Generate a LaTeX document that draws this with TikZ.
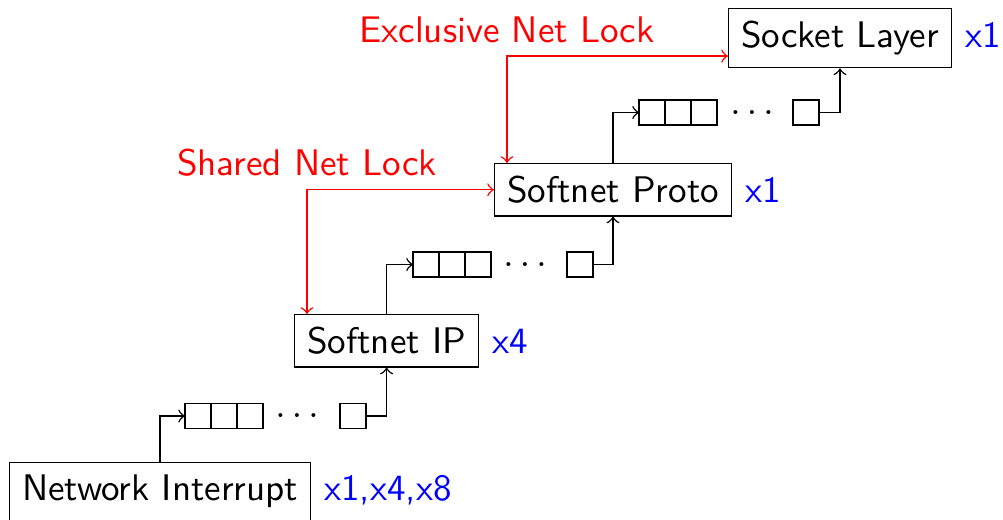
\documentclass[tikz,border=0pt]{standalone}
\usepackage{tikz}
\usetikzlibrary{positioning}

\begin{document}
\begin{tikzpicture}[x=0.27pt,y=-0.27pt,
  every node/.style={font=\sffamily},
  layer/.style={draw,anchor=north west},
  count/.style={text=blue,anchor=base west},
  cell/.style={draw,minimum width=7pt,minimum height=6.75pt,inner sep=0pt,outer sep=0pt},
  lock/.style={red,<->},
  flow/.style={->}]
\useasboundingbox (0,0) rectangle (1003,519);
% layers
\node[layer] (ni) at (9,462) {Network Interrupt};
\node[layer] (ip) at (294,314) {Softnet IP};
\node[layer] (proto) at (494,163) {Softnet Proto};
\node[layer] (sock) at (728,8) {Socket Layer};
\node[count] (nicount) at (ni.base east) {x1,x4,x8};
\node[count] (ipcount) at (ip.base east) {x4};
\node[count] (protocount) at (proto.base east) {x1};
\node[count] (sockcount) at (sock.base east) {x1};
% queues
\node[cell] (q1a) at (198,416) {};
\node[cell,right=0pt of q1a] (q1b) {};
\node[cell,right=0pt of q1b] (q1c) {};
\node (q1d) at (297,416) {$\ldots$};
\node[cell] (q1z) at (353,416) {};
\node[cell] (q2a) at (426,264.5) {};
\node[cell,right=0pt of q2a] (q2b) {};
\node[cell,right=0pt of q2b] (q2c) {};
\node (q2d) at (525,264.5) {$\ldots$};
\node[cell] (q2z) at (580,264.5) {};
\node[cell] (q3a) at (652,112.5) {};
\node[cell,right=0pt of q3a] (q3b) {};
\node[cell,right=0pt of q3b] (q3c) {};
\node (q3d) at (752,112.5) {$\ldots$};
\node[cell] (q3z) at (806,112.5) {};
% packet flow
\draw[flow] (ni.north) |- (q1a.west);
\draw[flow] (q1z.east) -| (ip.south);
\draw[flow] (ip.north) |- (q2a.west);
\draw[flow] (q2z.east) -| (proto.south);
\draw[flow] (proto.north) |- (q3a.west);
\draw[flow] (q3z.east) -| (sock.south);
% locks
\draw[lock] (proto.west) -| node[above] {Shared Net Lock} ([xshift=3.5pt]ip.north west);
\draw[lock] ([yshift=3.3pt]sock.south west) -| node[above] {Exclusive Net Lock} ([xshift=3.5pt]proto.north west);
\end{tikzpicture}
\end{document}
